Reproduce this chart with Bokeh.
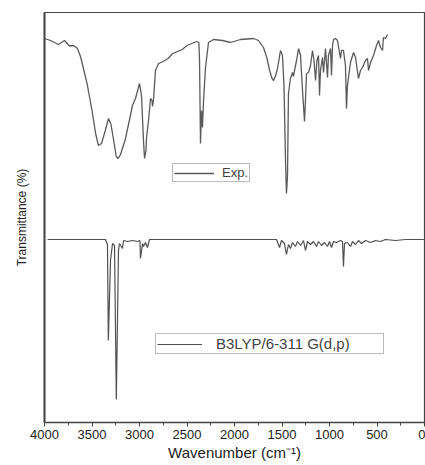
from bokeh.plotting import figure
from bokeh.models import Range1d, Legend, LegendItem, FixedTicker
from bokeh.embed import file_html
from bokeh.resources import INLINE

# Experimental FT-IR spectrum (wavenumber, transmittance a.u.)
exp_wn = [4000, 3937, 3853, 3789, 3737, 3695, 3653, 3621, 3590, 3550, 3500, 3460, 3432, 3400,
          3360, 3326, 3300, 3270, 3245, 3225, 3200, 3150, 3100, 3074, 3042, 3000, 2979, 2958,
          2947, 2932, 2926, 2905, 2884, 2868, 2863, 2853, 2832, 2800, 2750, 2700, 2650, 2600,
          2550, 2500, 2450, 2400, 2375, 2368, 2358, 2347, 2337, 2326, 2305, 2274, 2221, 2126,
          2042, 1937, 1800, 1747, 1695, 1660, 1630, 1605, 1589, 1570, 1547,
          1516, 1495, 1479, 1463, 1453, 1442, 1432, 1411, 1389, 1379, 1368, 1347, 1326, 1305,
          1284, 1263, 1253, 1242, 1221, 1200, 1179, 1163, 1147, 1132, 1116, 1105, 1095, 1074,
          1063, 1042, 1021, 1011, 989, 979, 968, 958, 937, 916, 884, 874, 853, 832, 821, 811,
          800, 779, 747, 726, 695, 674, 653, 621, 600, 589, 568, 537, 505, 484, 463, 442, 432,
          411, 389]
exp_t = [384, 382, 378, 382, 376.5, 377, 374, 366, 354, 338, 312, 288, 277, 279,
         292, 304, 298, 281, 266, 264, 268, 283, 305, 317, 324, 339, 327, 282,
         264, 272, 285, 302, 324, 322, 316, 322, 352, 359, 361, 364, 369, 371,
         373, 377, 379, 381, 380, 362, 279, 312, 295, 322, 355, 380, 383, 382,
         380, 383, 384, 382, 375, 365, 352, 344, 342, 346, 354,
         372, 367, 337, 262, 229, 247, 329, 344, 350, 346, 352, 362, 374, 367,
         332, 301, 322, 349, 350, 357, 372, 362, 342, 362, 367, 327, 352, 365,
         350, 374, 345, 367, 374, 347, 377, 383, 384, 382, 364, 372, 372, 357, 314, 337,
         345, 360, 370, 365, 344, 352, 355, 362, 364, 352, 360, 367, 377, 382, 375, 372, 385,
         384, 388]

# Calculated B3LYP/6-311 G(d,p) spectrum
calc_wn = [3968, 3358, 3337, 3328, 3305, 3284, 3263, 3244, 3221, 3211, 3179, 3168, 3126, 3074,
           3021, 2995, 2990, 2968, 2958, 2937, 2916, 2895, 1558, 1526, 1505, 1474, 1453, 1432,
           1411, 1389, 1358, 1337, 1305, 1274, 1253, 1232, 1200, 1168, 1137, 1116, 1084, 1053,
           1021, 1000, 979, 958, 926, 884, 863, 853, 842, 811, 779, 758, 726, 695, 663, 621,
           568, 516, 463, 411, 305, 200, 0]
calc_t = [183, 183, 178, 82, 162, 179, 177, 23, 172, 179, 174, 182, 181, 182,
          181, 182, 164, 179, 176, 180, 175, 183, 183, 175, 182, 179, 168, 178,
          174, 180, 176, 181, 177, 182, 172, 181, 178, 181, 176, 181, 177, 180,
          176, 181, 175, 181, 180, 182, 181, 156, 179, 180, 176, 181, 178, 182, 179, 182,
          180, 182, 181, 183, 182, 183, 183]

x_ticks = [4000, 3500, 3000, 2500, 2000, 1500, 1000, 500, 0]
x_minor = [3750, 3250, 2750, 2250, 1750, 1250, 750, 250]

FONT = "Liberation Sans"

p = figure(width=425, height=465, min_border_left=44, min_border_right=1,
           min_border_top=12, min_border_bottom=43,
           x_range=Range1d(4000, 0), y_range=Range1d(0, 410),
           output_backend="svg", toolbar_location=None)
p.grid.visible = False
p.outline_line_color = "#444444"
p.outline_line_width = 1.2
p.background_fill_color = "white"
p.border_fill_color = "white"

r_exp = p.line(exp_wn, exp_t, line_color="#5a5a5a", line_width=1.3)
r_calc = p.line(calc_wn, calc_t, line_color="#505050", line_width=1.2)

xa = p.xaxis[0]
xa.ticker = FixedTicker(ticks=x_ticks, minor_ticks=x_minor)
xa.major_tick_in = 0
xa.major_tick_out = 4
xa.minor_tick_in = 0
xa.minor_tick_out = 3
xa.major_label_standoff = 3
xa.major_label_text_font = FONT
xa.major_label_text_font_size = "13px"
xa.major_label_text_color = "#222222"
xa.axis_line_color = "#444444"
xa.axis_line_width = 1.5
xa.major_tick_line_color = "#444444"
xa.minor_tick_line_color = "#444444"
xa.axis_label = "Wavenumber (cm\u207b\u00b9)"
xa.axis_label_text_font = FONT
xa.axis_label_text_font_size = "15px"
xa.axis_label_text_font_style = "normal"
xa.axis_label_text_color = "#222222"
xa.axis_label_standoff = 2

ya = p.yaxis[0]
ya.ticker = FixedTicker(ticks=[])
ya.major_tick_out = 0
ya.major_tick_in = 0
ya.minor_tick_out = 0
ya.axis_line_color = "#444444"
ya.axis_line_width = 2
ya.axis_label = "Transmittance (%)"
ya.axis_label_text_font = FONT
ya.axis_label_text_font_size = "12px"
ya.axis_label_text_font_style = "normal"
ya.axis_label_text_color = "#222222"
ya.axis_label_standoff = 16

leg1 = Legend(items=[LegendItem(label="Exp.", renderers=[r_exp])],
              location=(128, 240), padding=1, margin=0, spacing=0,
              glyph_width=40, glyph_height=10, label_height=10, label_standoff=8,
              label_text_font=FONT, label_text_font_size="13px",
              border_line_color="#777777", border_line_width=1,
              background_fill_color="white", background_fill_alpha=1)
leg2 = Legend(items=[LegendItem(label="B3LYP/6-311 G(d,p)", renderers=[r_calc])],
              location=(111, 68), padding=1, margin=0, spacing=0,
              glyph_width=45, glyph_height=10, label_height=10, label_standoff=14,
              label_width=166,
              label_text_font=FONT, label_text_font_size="15px",
              border_line_color="#777777", border_line_width=1,
              background_fill_color="white", background_fill_alpha=1)
p.add_layout(leg1, "center")
p.add_layout(leg2, "center")

open("out.html", "w").write(file_html(p, INLINE))
